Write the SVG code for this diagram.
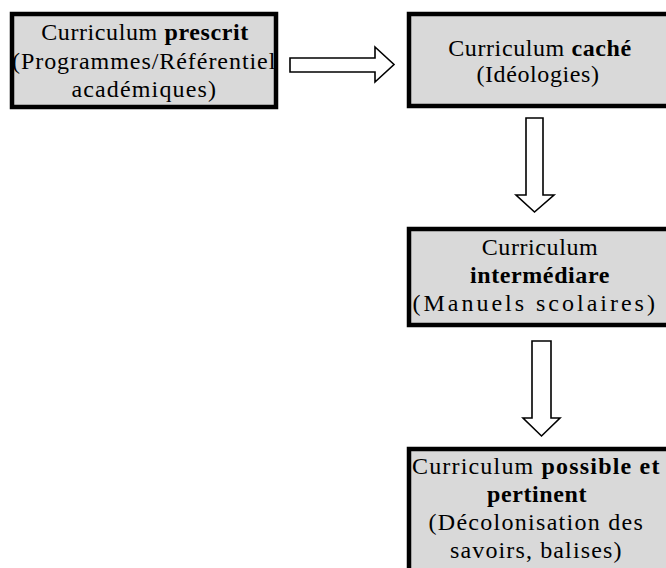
<svg xmlns="http://www.w3.org/2000/svg" width="666" height="568" viewBox="0 0 666 568">
<style>
.box{fill:#d9d9d9;stroke:#000;stroke-width:4.5}
.t{font-family:"Liberation Serif","Times New Roman",serif;font-size:24px;fill:#000;text-anchor:middle;letter-spacing:0.6px}
.b{font-weight:bold}
.arr{fill:#fff;stroke:#000;stroke-width:1.6;stroke-linejoin:miter}
</style>
<rect width="666" height="568" fill="#fff"/>
<g id="connectors">
<polygon class="arr" points="290,58 375,58 375,47 394,64.5 375,82 375,72 290,72"/>
<polygon class="arr" points="526,118 543,118 543,195 554,195 534.5,212 516,195 526,195"/>
<polygon class="arr" points="532,341 551,341 551,418 560,418 541.5,436 523,418 532,418"/>
</g>
<g id="prescrit">
<rect class="box" x="12" y="14" width="264" height="93"/>
<text class="t" x="145" y="40">Curriculum <tspan class="b">prescrit</tspan></text>
<text class="t" x="144" y="69" textLength="264" lengthAdjust="spacing">(Programmes/Référentiel</text>
<text class="t" x="144" y="97" textLength="145" lengthAdjust="spacing">académiques)</text>
</g>
<g id="cache">
<rect class="box" x="409" y="14" width="262" height="92"/>
<text class="t" x="540" y="56">Curriculum <tspan class="b">caché</tspan></text>
<text class="t" x="538" y="82">(Idéologies)</text>
</g>
<g id="intermediare">
<rect class="box" x="409" y="229" width="262" height="96"/>
<text class="t" x="540" y="255">Curriculum</text>
<text class="t b" x="540" y="283">intermédiare</text>
<text class="t" x="534" y="311" textLength="243" lengthAdjust="spacing">(Manuels scolaires)</text>
</g>
<g id="possible">
<rect class="box" x="409" y="449" width="262" height="130"/>
<text class="t" x="536" y="474" textLength="248" lengthAdjust="spacing">Curriculum <tspan class="b">possible et</tspan></text>
<text class="t b" x="537" y="502">pertinent</text>
<text class="t" x="536" y="530" textLength="215" lengthAdjust="spacing">(Décolonisation des</text>
<text class="t" x="536" y="558" textLength="172" lengthAdjust="spacing">savoirs, balises)</text>
</g>
</svg>
